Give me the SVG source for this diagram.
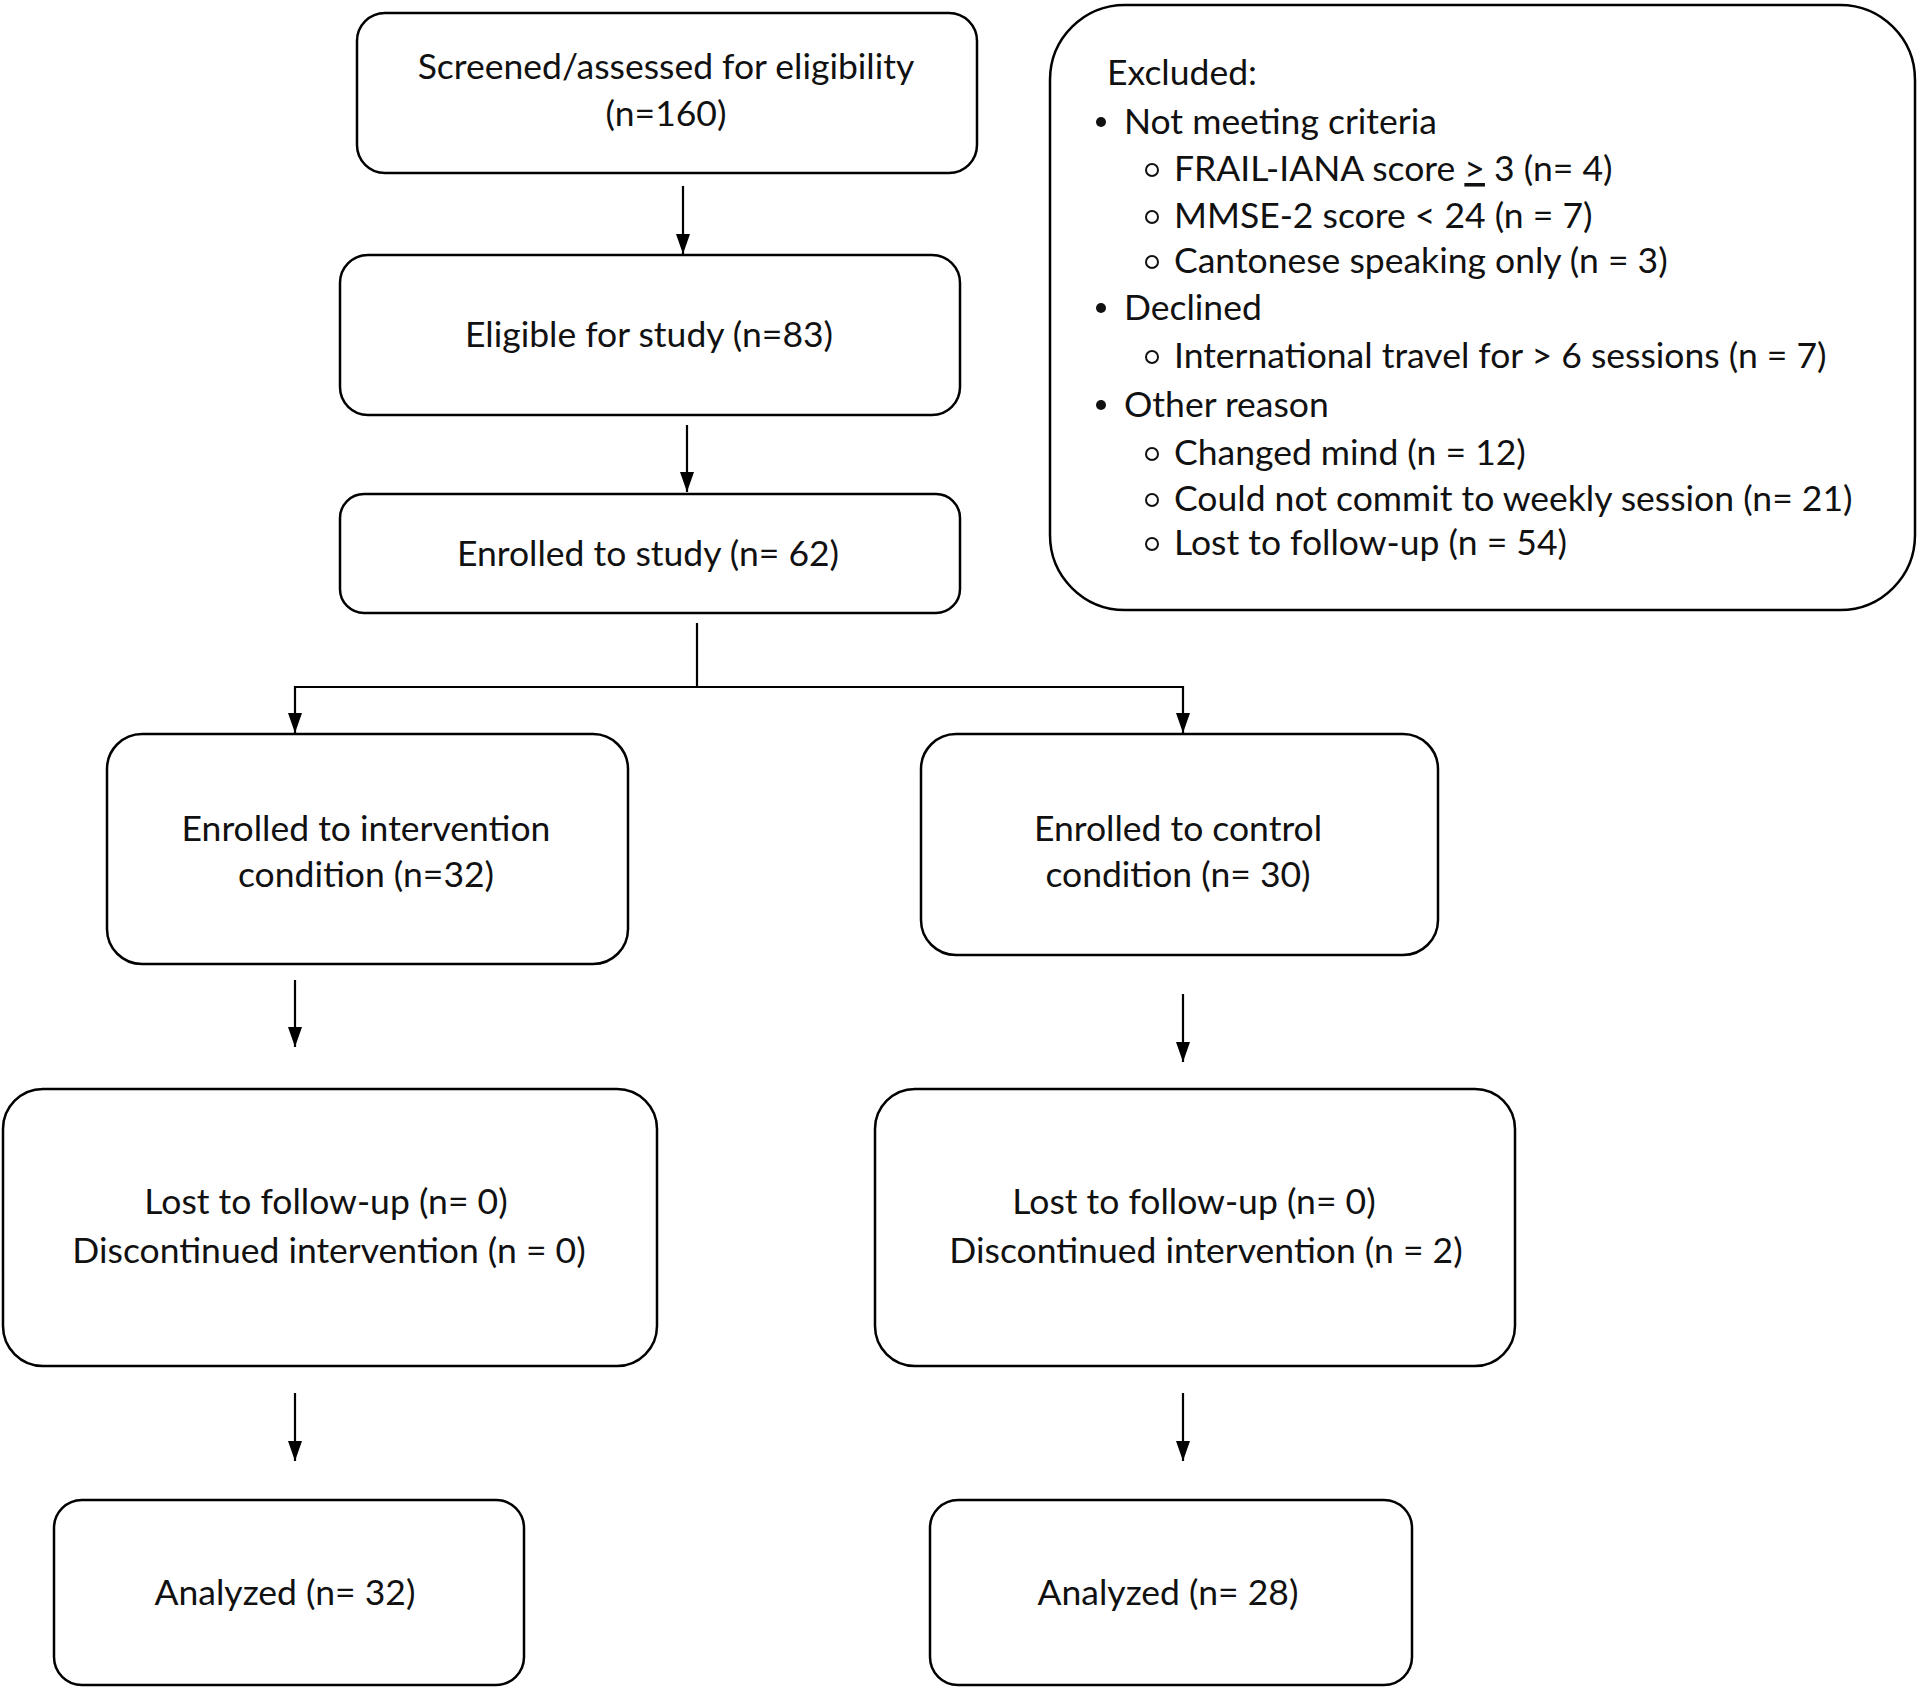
<svg xmlns="http://www.w3.org/2000/svg" width="1920" height="1693" viewBox="0 0 1920 1693">
<style>
.box{fill:#fff;stroke:#000;stroke-width:2.5}
.t{font-family:Lato,"Liberation Sans",sans-serif;font-size:35.5px;fill:#111}
.c{text-anchor:middle}
.ln{stroke:#000;stroke-width:2.2;fill:none}
.o{fill:none;stroke:#111;stroke-width:2}
</style>
<defs>
<marker id="ah" viewBox="0 0 20 14" refX="20" refY="7" markerWidth="20" markerHeight="14" markerUnits="userSpaceOnUse" orient="auto">
<path d="M0,0 L20,7 L0,14 Z" fill="#000"/>
</marker>
</defs>
<rect width="1920" height="1693" fill="#fff"/>
<g id="connectors">
<line class="ln" x1="683" y1="186" x2="683" y2="254" marker-end="url(#ah)" />
<line class="ln" x1="687" y1="425" x2="687" y2="492" marker-end="url(#ah)" />
<polyline class="ln" points="697,623 697,687" />
<polyline class="ln" points="295,687 1183,687" />
<line class="ln" x1="295" y1="686" x2="295" y2="733" marker-end="url(#ah)" />
<line class="ln" x1="1183" y1="686" x2="1183" y2="733" marker-end="url(#ah)" />
<line class="ln" x1="295" y1="980" x2="295" y2="1047" marker-end="url(#ah)" />
<line class="ln" x1="1183" y1="994" x2="1183" y2="1062" marker-end="url(#ah)" />
<line class="ln" x1="295" y1="1393" x2="295" y2="1461" marker-end="url(#ah)" />
<line class="ln" x1="1183" y1="1393" x2="1183" y2="1461" marker-end="url(#ah)" />
</g>
<g id="screened">
<rect class="box" x="357" y="13" width="620" height="160" rx="28"/>
<text class="t c" x="666" y="79">Screened/assessed for eligibility</text>
<text class="t c" x="666" y="126">(n=160)</text>
</g>
<g id="excluded">
<rect class="box" x="1050" y="5" width="865" height="605" rx="75"/>
<text class="t" x="1107" y="85">Excluded:</text>
<circle cx="1101" cy="122" r="5" fill="#111"/>
<text class="t" x="1124" y="134">Not meeting criteria</text>
<circle class="o" cx="1152" cy="170" r="6"/>
<text class="t" x="1174" y="181">FRAIL-IANA score <tspan text-decoration="underline">&gt;</tspan> 3 (n= 4)</text>
<circle class="o" cx="1152" cy="217" r="6"/>
<text class="t" x="1174" y="228">MMSE-2 score &lt; 24 (n = 7)</text>
<circle class="o" cx="1152" cy="262" r="6"/>
<text class="t" x="1174" y="273">Cantonese speaking only (n = 3)</text>
<circle cx="1101" cy="308" r="5" fill="#111"/>
<text class="t" x="1124" y="320">Declined</text>
<circle class="o" cx="1152" cy="357" r="6"/>
<text class="t" x="1174" y="368">International travel for &gt; 6 sessions (n = 7)</text>
<circle cx="1101" cy="405" r="5" fill="#111"/>
<text class="t" x="1124" y="417">Other reason</text>
<circle class="o" cx="1152" cy="454" r="6"/>
<text class="t" x="1174" y="465">Changed mind (n = 12)</text>
<circle class="o" cx="1152" cy="500" r="6"/>
<text class="t" x="1174" y="511">Could not commit to weekly session (n= 21)</text>
<circle class="o" cx="1152" cy="544" r="6"/>
<text class="t" x="1174" y="555">Lost to follow-up (n = 54)</text>
</g>
<g id="eligible">
<rect class="box" x="340" y="255" width="620" height="160" rx="28"/>
<text class="t c" x="649" y="347">Eligible for study (n=83)</text>
</g>
<g id="enrolled">
<rect class="box" x="340" y="494" width="620" height="119" rx="24"/>
<text class="t c" x="648" y="566">Enrolled to study (n= 62)</text>
</g>
<g id="intervention">
<rect class="box" x="107" y="734" width="521" height="230" rx="35"/>
<text class="t c" x="366" y="841">Enrolled to intervention</text>
<text class="t c" x="366" y="887">condition (n=32)</text>
</g>
<g id="control">
<rect class="box" x="921" y="734" width="517" height="221" rx="35"/>
<text class="t c" x="1178" y="841">Enrolled to control</text>
<text class="t c" x="1178" y="887">condition (n= 30)</text>
</g>
<g id="lost-left">
<rect class="box" x="3" y="1089" width="654" height="277" rx="40"/>
<text class="t c" x="326" y="1214">Lost to follow-up (n= 0)</text>
<text class="t c" x="329" y="1263">Discontinued intervention (n = 0)</text>
</g>
<g id="lost-right">
<rect class="box" x="875" y="1089" width="640" height="277" rx="40"/>
<text class="t c" x="1194" y="1214">Lost to follow-up (n= 0)</text>
<text class="t c" x="1206" y="1263">Discontinued intervention (n = 2)</text>
</g>
<g id="analyzed-left">
<rect class="box" x="54" y="1500" width="470" height="185" rx="28"/>
<text class="t c" x="285" y="1605">Analyzed (n= 32)</text>
</g>
<g id="analyzed-right">
<rect class="box" x="930" y="1500" width="482" height="185" rx="28"/>
<text class="t c" x="1168" y="1605">Analyzed (n= 28)</text>
</g>
</svg>
